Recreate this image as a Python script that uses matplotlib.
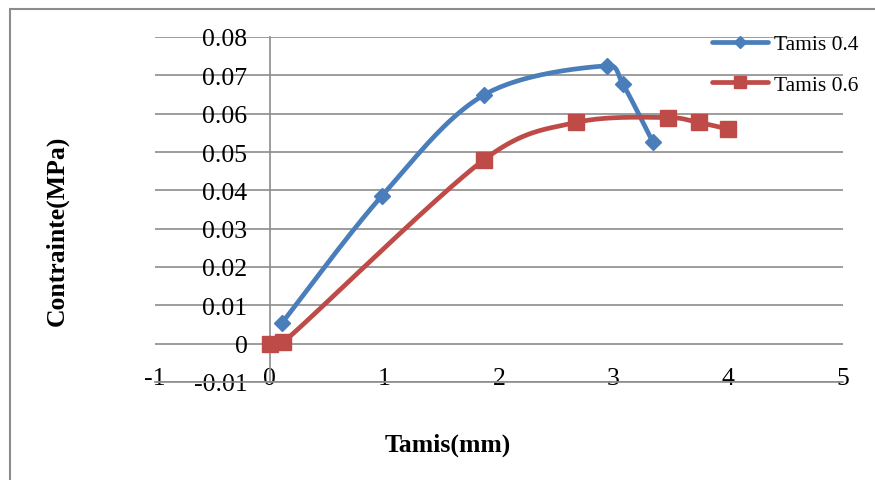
import numpy as np
import matplotlib
matplotlib.use("Agg")
import matplotlib.pyplot as plt
from matplotlib.patches import Rectangle

# ---- data ----
x_04 = [0.11, 0.98, 1.87, 2.94, 3.08, 3.34]
y_04 = [0.0055, 0.0386, 0.0649, 0.0725, 0.0677, 0.0527]
x_06 = [0.0, 0.12, 1.87, 2.67, 3.47, 3.74, 4.0]
y_06 = [0.0, 0.0004, 0.048, 0.0577, 0.0590, 0.0577, 0.0560]
labels = ["Tamis 0.4", "Tamis 0.6"]
xticks = [-1, 0, 1, 2, 3, 4, 5]
yticks = [-0.01, 0, 0.01, 0.02, 0.03, 0.04, 0.05, 0.06, 0.07, 0.08]
ytick_labels = ["-0.01", "0", "0.01", "0.02", "0.03", "0.04", "0.05", "0.06", "0.07", "0.08"]

BLUE = "#4A7EBB"
RED = "#BE4B48"
GRID = "#8C8C8C"

plt.rcParams['font.family'] = ['Liberation Serif', 'DejaVu Serif']
plt.rcParams['axes.unicode_minus'] = False


def smooth(ax, xs, ys, n=40, clamp=0.5):
    """Excel-like smooth line: Catmull-Rom Bezier in screen space, control arms clamped."""
    P = ax.transData.transform(np.column_stack([xs, ys]).astype(float))
    N = len(P)
    out = []
    for i in range(N - 1):
        p1, p2 = P[i], P[i + 1]
        p0 = P[i - 1] if i > 0 else p1
        p3 = P[i + 2] if i + 2 < N else p2
        seglen = np.linalg.norm(p2 - p1)
        a1 = (p2 - p0) / 6.0
        a2 = (p3 - p1) / 6.0
        for a in (a1, a2):
            L = np.linalg.norm(a)
            if L > clamp * seglen and L > 0:
                a *= clamp * seglen / L
        c1 = p1 + a1
        c2 = p2 - a2
        t = np.linspace(0, 1, n)[:, None]
        seg = ((1 - t) ** 3) * p1 + 3 * ((1 - t) ** 2) * t * c1 + 3 * (1 - t) * t ** 2 * c2 + t ** 3 * p2
        out.append(seg if i == 0 else seg[1:])
    s = ax.transData.inverted().transform(np.vstack(out))
    return s[:, 0], s[:, 1]


fig = plt.figure(figsize=(8.75, 4.81), dpi=100)
W, H = 875, 481
ax = fig.add_axes([155 / W, 1 - 383 / H, (843 - 155) / W, (383 - 38) / H])
ax.set_xlim(-1, 5)
ax.set_ylim(-0.01, 0.08)

for xs, ys, c, m, ms, lab in [(x_04, y_04, BLUE, 'D', 8, labels[0]),
                               (x_06, y_06, RED, 's', 12, labels[1])]:
    sx, sy = smooth(ax, xs, ys)
    ax.plot(sx, sy, color=c, lw=3.4, solid_capstyle='round', zorder=3)
    ax.plot(xs, ys, linestyle='none', marker=m, ms=ms, color=c, mec=c, zorder=4)
    ax.plot([], [], color=c, lw=3.4, marker=m, ms=ms * 0.75, label=lab, solid_capstyle='round')

ax.set_xticks(xticks)
ax.set_yticks(yticks)
ax.set_yticklabels(ytick_labels)
ax.yaxis.grid(True, color=GRID, lw=1.2)
ax.set_axisbelow(True)

for s in ['top', 'right']:
    ax.spines[s].set_visible(False)
ax.spines['left'].set_position(('data', 0))
ax.spines['left'].set_color(GRID)
ax.spines['left'].set_linewidth(1.2)
ax.spines['bottom'].set_color(GRID)
ax.spines['bottom'].set_linewidth(1.2)
ax.tick_params(axis='both', length=0, labelsize=18.5, colors='black')
ax.tick_params(axis='y', pad=16)
ax.tick_params(axis='x', pad=-11)

ax.set_xlabel("Tamis(mm)", fontsize=18.5, fontweight='bold')
ax.xaxis.set_label_coords((448 - 155) / 688, (383 - 445) / 345)
ax.xaxis.label.set_va('center')
ax.set_ylabel("Contrainte(MPa)", fontsize=18.5, fontweight='bold')
ax.yaxis.set_label_coords((57 - 155) / 688, (383 - 231) / 345)
ax.yaxis.label.set_va('center')
ax.yaxis.label.set_ha('center')

leg = fig.legend(loc='upper left', bbox_to_anchor=(712 / W, 1 - 35 / H), frameon=False,
                 fontsize=15.5, handlelength=2.6, handletextpad=0.3, labelspacing=0.95,
                 borderpad=0, borderaxespad=0)

fig.patches.append(Rectangle((10 / W, -0.2), 2, 1.2 - 10 / H, transform=fig.transFigure,
                             fill=False, edgecolor=GRID, lw=1.5))

fig.savefig("out.png", dpi=100)
